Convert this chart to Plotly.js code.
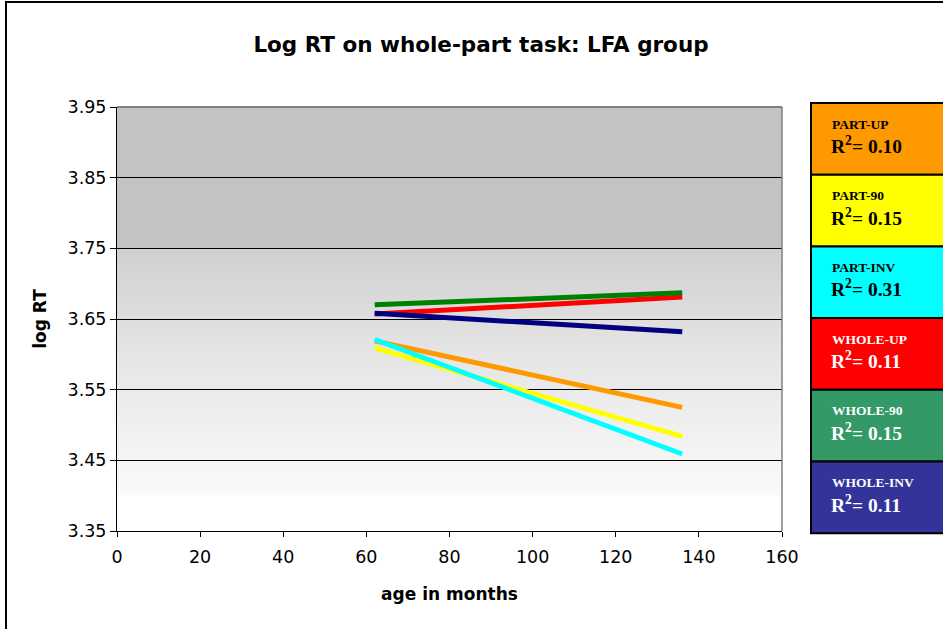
<!DOCTYPE html>
<html>
<head>
<meta charset="utf-8">
<script src="https://cdn.plot.ly/plotly-3.0.1.min.js"></script>
<style>
html,body{margin:0;padding:0;background:#fff;}
#wrap{position:relative;width:943px;height:629px;overflow:hidden;}
#frame{position:absolute;left:5px;top:1px;width:1000px;height:700px;border-left:2px solid #000;border-top:2px solid #000;box-sizing:border-box;pointer-events:none;}
#chart{position:absolute;left:0;top:0;width:943px;height:629px;}
</style>
</head>
<body>
<div id="wrap">
<div id="chart"></div>
<div id="frame"></div>
</div>
<script>
// ---- data ----
var seriesNames = ["PART-UP", "PART-90", "PART-INV", "WHOLE-UP", "WHOLE-90", "WHOLE-INV"];
var rSquared = ["0.10", "0.15", "0.31", "0.11", "0.15", "0.11"];
var ageMonths = [62, 136];
var partUp = [3.619, 3.525];
var part90 = [3.609, 3.484];
var partInv = [3.621, 3.459];
var wholeUp = [3.657, 3.681];
var whole90 = [3.670, 3.687];
var wholeInv = [3.658, 3.632];
var xTicks = [0, 20, 40, 60, 80, 100, 120, 140, 160];
var yTicks = [3.35, 3.45, 3.55, 3.65, 3.75, 3.85, 3.95];

// ---- styles ----
var lineColors = ["#FF9900", "#FFFF00", "#00FFFF", "#FF0000", "#008000", "#000080"];
var boxColors = ["#FF9900", "#FFFF00", "#00FFFF", "#FF0000", "#339966", "#333399"];
var textColors = ["#000", "#000", "#000", "#fff", "#fff", "#fff"];
var values = [partUp, part90, partInv, wholeUp, whole90, wholeInv];
var FONT = "DejaVu Sans";

var traces = values.map(function (v, i) {
  return {
    x: ageMonths, y: v, type: "scatter", mode: "lines",
    name: seriesNames[i],
    line: {color: lineColors[i], width: 5},
    hoverinfo: "skip"
  };
});

// background: flat top band + gradient image (style only)
var shapes = [];
shapes.push({type: "rect", xref: "paper", yref: "y", x0: 0, x1: 1, y0: 3.75, y1: 3.95,
  fillcolor: "#C3C3C3", line: {width: 0}, layer: "below"});
var gradSvg = '<svg xmlns="http://www.w3.org/2000/svg" width="10" height="100" preserveAspectRatio="none">' +
  '<defs><linearGradient id="g" x1="0" y1="0" x2="0" y2="1">' +
  '<stop offset="0" stop-color="#d0d0d0"/><stop offset="0.45" stop-color="#e6e6e6"/><stop offset="1" stop-color="#fafafa"/>' +
  '</linearGradient></defs><rect width="10" height="100" fill="url(#g)"/></svg>';
var images = [{
  source: "data:image/svg+xml;base64," + btoa(gradSvg),
  xref: "paper", yref: "y", x: 0, y: 3.75, sizex: 1, sizey: 0.35,
  sizing: "stretch", xanchor: "left", yanchor: "top", layer: "below"
}];
// plot-area top/right gray border
shapes.push({type: "line", xref: "paper", yref: "paper", x0: 0, x1: 1, y0: 1, y1: 1, line: {color: "#808080", width: 2}});
shapes.push({type: "line", xref: "paper", yref: "paper", x0: 1, x1: 1, y0: 0, y1: 1, line: {color: "#808080", width: 1.5}});

// legend boxes
var plotW = 665, plotH = 424, plotLeft = 117, plotBottom = 531;
var boxTop = 103, boxH = 71.7, boxL = 811, boxR = 960;
var annotations = [];
for (var i = 0; i < seriesNames.length; i++) {
  var bTop = boxTop + i * boxH, bBot = bTop + boxH;
  shapes.push({type: "rect", xref: "paper", yref: "paper",
    x0: (boxL - plotLeft) / plotW, x1: (boxR - plotLeft) / plotW,
    y0: (plotBottom - bBot) / plotH, y1: (plotBottom - bTop) / plotH,
    fillcolor: boxColors[i], line: {color: "#000", width: 2}});
  annotations.push({xref: "paper", yref: "paper", x: (830 - plotLeft) / plotW, y: (plotBottom - (bTop + 21)) / plotH,
    xanchor: "left", yanchor: "middle", showarrow: false,
    text: "<b>" + seriesNames[i] + "</b>",
    font: {family: "Liberation Serif", size: 13.5, color: textColors[i]}});
  annotations.push({xref: "paper", yref: "paper", x: (829 - plotLeft) / plotW, y: (plotBottom - (bTop + 42)) / plotH,
    xanchor: "left", yanchor: "middle", showarrow: false,
    text: "<b>R<sup>2</sup>= " + rSquared[i] + "</b>",
    font: {family: "Liberation Serif", size: 19.5, color: textColors[i]}});
}

var layout = {
  width: 943, height: 629,
  margin: {l: 117, r: 161, t: 107, b: 98},
  paper_bgcolor: "#fff", plot_bgcolor: "#fff",
  showlegend: false,
  title: {text: "<b>Log RT on whole-part task: LFA group</b>", x: 481 / 943, xref: "container", xanchor: "center",
    y: 1 - 44 / 629, yanchor: "middle",
    font: {family: FONT, size: 21.5, color: "#000"}},
  xaxis: {range: [0, 160], tickvals: xTicks, ticktext: xTicks.map(String),
    showgrid: false, zeroline: false, showline: true, linecolor: "#000", linewidth: 1,
    ticks: "outside", ticklen: 5, tickcolor: "#000", ticklabelstandoff: 5,
    tickfont: {family: FONT, size: 17.5, color: "#000"},
    title: {text: "<b>age in months</b>", font: {family: FONT, size: 17, color: "#000"}, standoff: 22}},
  yaxis: {range: [3.35, 3.95], tickvals: yTicks, ticktext: yTicks.map(function (v) { return v.toFixed(2); }),
    showgrid: true, gridcolor: "#000", gridwidth: 1, zeroline: false,
    showline: true, linecolor: "#000", linewidth: 1,
    ticks: "outside", ticklen: 6, tickcolor: "#000",
    tickfont: {family: FONT, size: 17.5, color: "#000"},
    title: {text: "<b>log RT</b>", font: {family: FONT, size: 17, color: "#000"}, standoff: 16}},
  shapes: shapes,
  images: images,
  annotations: annotations
};

Plotly.newPlot("chart", traces, layout, {displayModeBar: false, staticPlot: true});
</script>
</body>
</html>
